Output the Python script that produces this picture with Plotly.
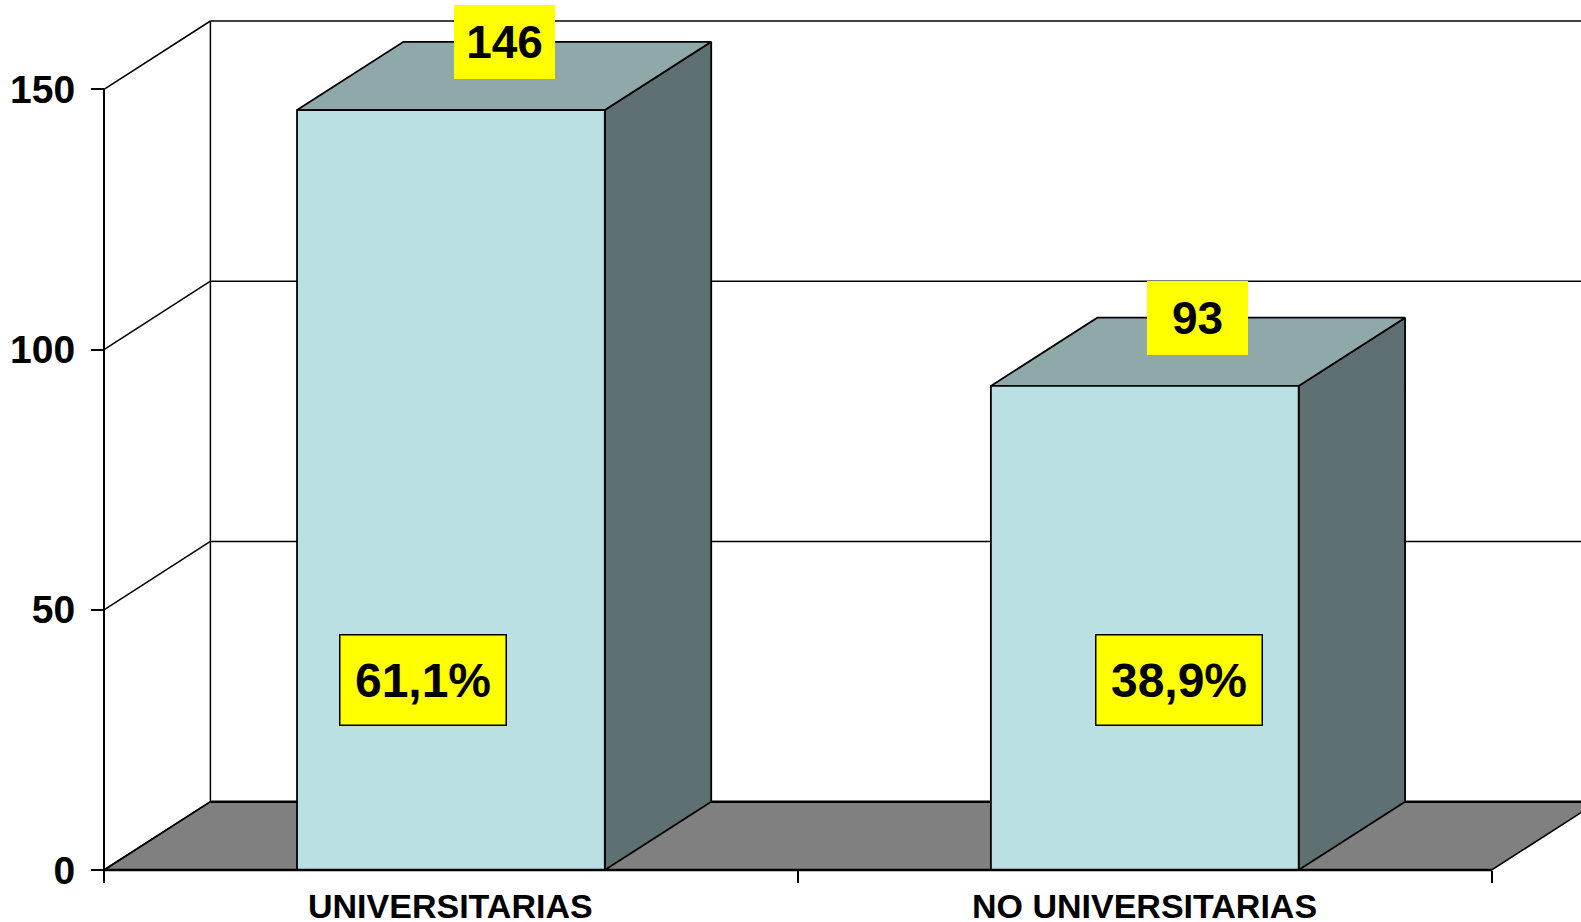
import plotly.graph_objects as go

# ---------------- data ----------------
categories = ["UNIVERSITARIAS", "NO UNIVERSITARIAS"]
counts = [146, 93]
y_ticks = [0, 50, 100, 150]

total = sum(counts)
pct_labels = [f"{v / total * 100:.1f}%".replace(".", ",") for v in counts]

# ---------------- geometry / style ----------------
PX_PER_CAT = 693.85          # pixels per category on the front axis
PX_PER_UNIT = 5.2047         # pixels per value unit
DX = 106.4 / PX_PER_CAT      # depth offset (x, category units)
DY = 68.3 / PX_PER_UNIT      # depth offset (y, value units)
HALF_W = 0.2218              # half bar width (category units)
AXIS_MAX = y_ticks[-1]
pct_offsets = [-0.040, 0.049]
PCT_Y = 36.5

FRONT = "#BAE0E3"
TOP = "#8FA8AA"
SIDE = "#5F7072"
FLOOR = "#808080"
FONT = "Liberation Sans, Arial, sans-serif"

W, H = 1581, 922
ML, MB = 102, 50
PW, PH = W - ML, H - MB
PAD = 2.0

n = len(categories)
fig = go.Figure()


def poly(xs, ys, fill, lw=1.5):
    fig.add_trace(go.Scatter(
        x=list(xs) + [xs[0]], y=list(ys) + [ys[0]], mode="lines",
        fill="toself", fillcolor=fill, line=dict(color="black", width=lw),
        hoverinfo="skip", showlegend=False))


def seg(xs, ys, lw=1.5):
    fig.add_trace(go.Scatter(
        x=xs, y=ys, mode="lines", line=dict(color="black", width=lw),
        hoverinfo="skip", showlegend=False))


# floor
poly([0, n, n + DX, DX], [0, 0, DY, DY], FLOOR, lw=1.5)
seg([DX, n + DX], [DY, DY], 2.5)

# back wall grid lines
for t in y_ticks[1:]:
    seg([DX, n + DX], [t + DY, t + DY], 1.5)
# side wall diagonals
for t in y_ticks:
    seg([0, DX], [t, t + DY], 1.5)
# back wall left edge
seg([DX, DX], [DY, AXIS_MAX + DY], 1.5)
# front vertical axis
seg([0, 0], [0, AXIS_MAX], 2)

# bars
for i, v in enumerate(counts):
    c = i + 0.5
    x0, x1 = c - HALF_W, c + HALF_W
    poly([x1, x1 + DX, x1 + DX, x1], [0, DY, v + DY, v], SIDE, 1.8)
    poly([x0, x1, x1 + DX, x0 + DX], [v, v, v + DY, v + DY], TOP, 1.8)
    poly([x0, x1, x1, x0], [0, 0, v, v], FRONT, 1.8)

# front floor edge
seg([0, n], [0, 0], 2.5)

annotations = []
for i, (v, p) in enumerate(zip(counts, pct_labels)):
    c = i + 0.5
    annotations.append(dict(
        x=c + DX / 2, y=v + DY, xref="x", yref="y", text=str(v),
        showarrow=False, xanchor="center", yanchor="middle",
        width=101, height=74, bgcolor="#FFFF00", borderwidth=0, borderpad=0,
        font=dict(family=FONT, size=46, color="black", weight="bold")))
    annotations.append(dict(
        x=c + pct_offsets[i], y=PCT_Y, xref="x", yref="y", text=p,
        showarrow=False, xanchor="center", yanchor="middle",
        width=165, height=89, bgcolor="#FFFF00", bordercolor="black",
        borderwidth=1.5, borderpad=0,
        font=dict(family=FONT, size=48, color="black", weight="bold")))
    annotations.append(dict(
        x=c, y=0, xref="x", yref="y", text=categories[i],
        showarrow=False, xanchor="center", yanchor="top", yshift=-15,
        font=dict(family=FONT, size=34, color="black", weight="bold")))

fig.update_layout(
    width=W, height=H, autosize=False,
    margin=dict(l=ML, r=0, t=0, b=MB, pad=0),
    paper_bgcolor="white", plot_bgcolor="white",
    showlegend=False,
    annotations=annotations,
    xaxis=dict(
        range=[-PAD / PX_PER_CAT, (PW - PAD) / PX_PER_CAT],
        tickvals=[0, 1, 2], ticks="outside", ticklen=12, tickwidth=2,
        tickcolor="black", showticklabels=False, showgrid=False,
        zeroline=False, showline=False,
        anchor="free", position=PAD / PH,
    ),
    yaxis=dict(
        range=[-PAD / PX_PER_UNIT, (PH - PAD) / PX_PER_UNIT],
        tickvals=y_ticks, ticktext=[str(t) for t in y_ticks],
        ticks="outside", ticklen=13, tickwidth=2, tickcolor="black",
        ticklabelstandoff=8,
        tickfont=dict(family=FONT, size=39, color="black", weight="bold"),
        showgrid=False, zeroline=False, showline=False,
        anchor="free", position=PAD / PW,
    ),
)

fig.write_html(
    "out.html",
    config={"displayModeBar": False},
    post_script="document.body.style.margin='0px';document.body.style.overflow='hidden';",
)
